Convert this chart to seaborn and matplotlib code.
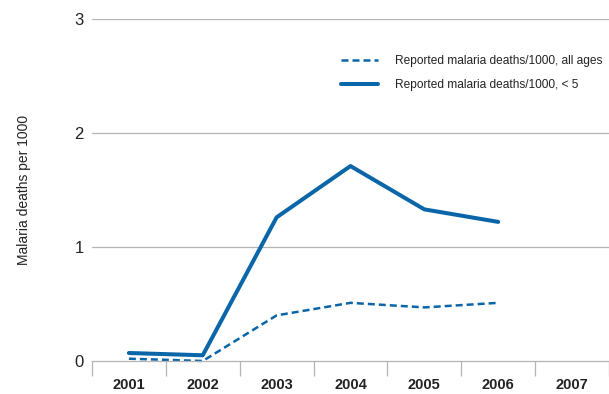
import numpy as np
import pandas as pd
import matplotlib
matplotlib.use('Agg')
import matplotlib.pyplot as plt
import seaborn as sns

# ------------------------------------------------------
# INPUTS
# ------------------------------------------------------

years = ['2001', '2002', '2003', '2004', '2005', '2006', '2007']
data_years = ['2001', '2002', '2003', '2004', '2005', '2006']
all_ages = [0.02, 0.00, 0.40, 0.51, 0.47, 0.51]
under5 = [0.07, 0.05, 1.26, 1.71, 1.33, 1.22]

label_all = 'Reported malaria deaths/1000, all ages'
label_u5 = 'Reported malaria deaths/1000, < 5'
blue = '#0a66a8'
grey = '#b4b4b4'
txt = '#222222'

sns.set_style('white')
plt.rcParams['font.family'] = ['Liberation Sans', 'DejaVu Sans']
plt.rcParams['text.color'] = txt
plt.rcParams['xtick.color'] = txt
plt.rcParams['ytick.color'] = txt
plt.rcParams['axes.labelcolor'] = txt

# ------------------------------------------------------
# PLOT
# ------------------------------------------------------

fig = plt.figure(figsize=(6.09, 3.94), dpi=100)
ax = fig.add_axes([0.151, 0.0838, 0.849, 0.868])

pos = [years.index(y) for y in data_years]
sns.lineplot(x=pos, y=all_ages, ax=ax, color=blue, linewidth=1.8, label=label_all,
             clip_on=False)
sns.lineplot(x=pos, y=under5, ax=ax, color=blue, linewidth=2.9, label=label_u5,
             clip_on=False)
ax.lines[0].set_dashes([2.8, 1.6])

ax.set_xlim(-0.5, 6.37)
ax.set_ylim(0, 3)

# Horizontal gridlines
for v in [1, 2, 3]:
    ax.axhline(v, color=grey, linewidth=0.9, zorder=0)

for s in ['top', 'right', 'left']:
    ax.spines[s].set_visible(False)
ax.spines['bottom'].set_color(grey)
ax.spines['bottom'].set_linewidth(0.9)

# Category separators as major ticks, labels at centers
ax.set_xticks(np.arange(-0.5, 7, 1))
ax.set_xticklabels([])
ax.tick_params(axis='x', which='major', direction='out', length=11, color=grey, width=0.9, bottom=True)
ax.set_xticks(np.arange(len(years)), minor=True)
ax.set_xticklabels(years, minor=True, fontweight='bold', fontsize=10.5)
ax.tick_params(axis='x', which='minor', length=0, pad=12)

ax.set_yticks([0, 1, 2, 3])
ax.set_yticklabels(['0', '1', '2', '3'], fontsize=12)
ax.tick_params(axis='y', length=0, pad=6)
ax.set_ylabel('Malaria deaths per 1000', fontsize=10, labelpad=31)
ax.set_xlabel('')

leg = ax.legend(loc='upper right', bbox_to_anchor=(1.008, 0.925), frameon=False,
                fontsize=8.6, handlelength=3.1, handletextpad=1.4, labelspacing=1.0)

plt.savefig('out.png', dpi=100)
plt.close('all')
